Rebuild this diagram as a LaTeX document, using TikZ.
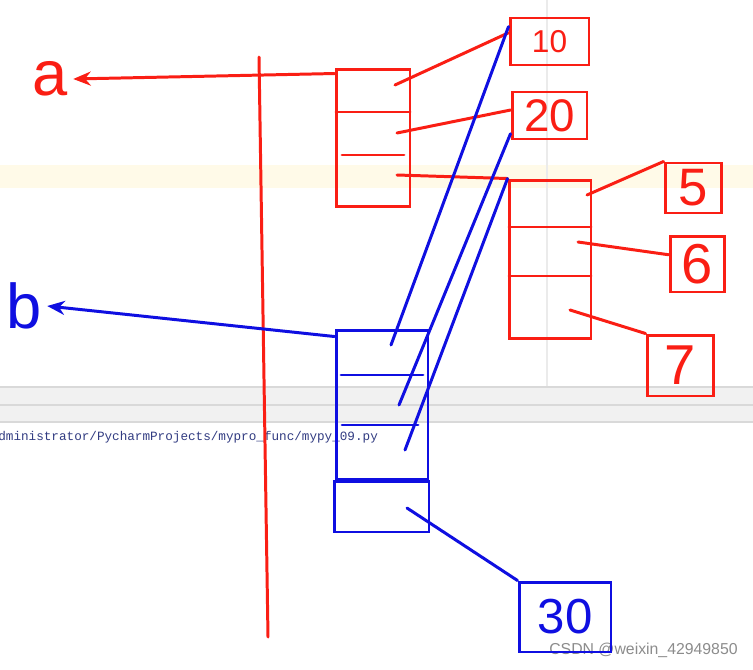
\documentclass[tikz,border=0pt]{standalone}
\usepackage{fontspec}
\setmainfont{Liberation Sans}
\setmonofont{Liberation Mono}
\usepackage{tikz}
\usetikzlibrary{
  arrows.meta,
  positioning
}
\definecolor{PenRed}{RGB}{250, 30, 20}
\definecolor{PenBlue}{RGB}{15, 15, 225}
\definecolor{BandYellow}{RGB}{255, 250, 232}
\definecolor{BarGray}{RGB}{241, 241, 241}
\definecolor{PathBlue}{RGB}{50, 60, 130}
\tikzset{
    pen/.style={line width=1.7pt, line cap=round},
    redpen/.style={pen, draw=PenRed},
    bluepen/.style={pen, draw=PenBlue},
    memcell/.style={rectangle, line width=1.7pt, inner sep=0pt},
    valbox/.style={memcell, align=center},
    varname/.style={inner sep=3pt, font=\fontsize{36}{38}\selectfont}
}

\begin{document}
\begin{tikzpicture}[x=0.02cm, y=-0.02cm]
            \fill[white] (0,0) rectangle (753,669);
            \useasboundingbox (0,0) rectangle (753,669);
            \fill[BandYellow] (0,165) rectangle (753,188);
            \draw[black!8, line width=0.6pt] (547,0) -- (547,387);
            \fill[BarGray] (0,387) rectangle (753,422);
            \draw[black!15, line width=0.6pt] (0,387) -- (753,387) (0,405) -- (753,405) (0,422) -- (753,422);
            \node[anchor=west, inner sep=0pt, text=PathBlue, font=\ttfamily\fontsize{7.2}{8}\selectfont] (pyfile) at (-2,437) {dministrator/PycharmProjects/mypro\_func/mypy\_09.py};
            \node[anchor=east, inner sep=0pt, text=black!45, font=\fontsize{9}{11}\selectfont] (mark) at (738,650) {CSDN @weixin\_42949850};

            \coordinate (stackTop) at (259,57);
            \coordinate (stackBot) at (268,637);
            \draw[redpen] (stackTop) -- (stackBot);

            \node[varname, text=PenRed] (nameA) at (50,79) {a};
            \node[varname, text=PenBlue] (nameB) at (24,306) {b};

            \node[memcell, draw=PenRed, minimum width=1.48cm, minimum height=2.76cm] (listA) at (373,138) {};
            \draw[redpen] (336,112) -- (410,112);
            \draw[redpen] (342,155) -- (404,155);
            \node[memcell, draw=PenRed, minimum width=1.64cm, minimum height=3.18cm] (listB) at (550,259.5) {};
            \draw[redpen] (509,227) -- (591,227);
            \draw[redpen] (509,276) -- (591,276);
            \node[memcell, draw=PenBlue, minimum width=1.84cm, minimum height=3.0cm] (listC) at (382,405) {};
            \draw[bluepen] (341,375) -- (423,375);
            \draw[bluepen] (342,425) -- (418,425);
            \node[memcell, draw=PenBlue, minimum width=1.9cm, minimum height=1.02cm] (listD) at (381.5,506.5) {};

            \node[valbox, draw=PenRed, text=PenRed, minimum width=1.58cm, minimum height=0.94cm, font=\fontsize{18}{20}\selectfont] (v10) at (549.5,41.5) {10};
            \node[valbox, draw=PenRed, text=PenRed, minimum width=1.5cm, minimum height=0.94cm, font=\fontsize{26}{28}\selectfont] (v20) at (549.5,115.5) {20};
            \node[valbox, draw=PenRed, text=PenRed, minimum width=1.12cm, minimum height=1.0cm, font=\fontsize{30}{32}\selectfont] (v5) at (693,188) {5};
            \node[valbox, draw=PenRed, text=PenRed, minimum width=1.08cm, minimum height=1.12cm, font=\fontsize{32}{34}\selectfont] (v6) at (697,264) {6};
            \node[valbox, draw=PenRed, text=PenRed, minimum width=1.32cm, minimum height=1.22cm, font=\fontsize{32}{34}\selectfont] (v7) at (680,365.5) {7};
            \node[valbox, draw=PenBlue, text=PenBlue, minimum width=1.84cm, minimum height=1.4cm, font=\fontsize{28}{30}\selectfont] (v30) at (565,617) {30};

            \coordinate (a1) at (395,85);
            \coordinate (a2) at (397,133);
            \coordinate (a3) at (397,175);
            \coordinate (b1) at (587,195);
            \coordinate (b2) at (578,242);
            \coordinate (b3) at (570,310);
            \coordinate (c1) at (391,345);
            \coordinate (c2) at (399,405);
            \coordinate (c3) at (405,450);
            \coordinate (d1) at (407,508);

            \draw[redpen, -{Stealth[length=10pt, width=8pt]}] ([yshift=-0.12cm]listA.north west) -- (nameA.east);
            \draw[bluepen, -{Stealth[length=10pt, width=8pt]}] ([yshift=-0.16cm]listC.north west) -- (nameB.east);

            \draw[redpen] (a1) -- (v10.168);
            \draw[redpen] (a2) -- (v20.172);
            \draw[redpen] (a3) -- (listB.north west);
            \draw[redpen] (b1) -- (v5.north west);
            \draw[redpen] (b2) -- (v6.162);
            \draw[redpen] (b3) -- (v7.north west);
            \draw[bluepen] (c1) -- (v10.160);
            \draw[bluepen] (c2) -- (v20.205);
            \draw[bluepen] (c3) -- (listB.north west);
            \draw[bluepen] (d1) -- (v30.north west);
        \end{tikzpicture}
\end{document}
